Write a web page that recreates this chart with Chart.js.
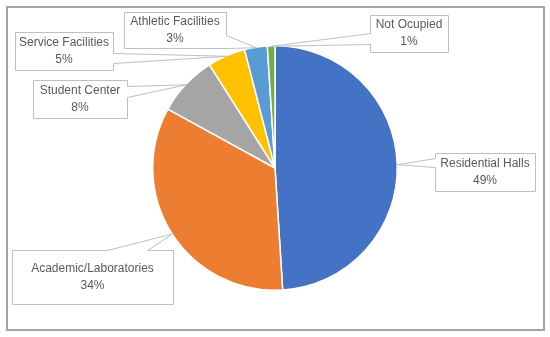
<!DOCTYPE html>
<html>
<head>
<meta charset="utf-8">
<script src="https://cdn.jsdelivr.net/npm/chart.js@4.4.1/dist/chart.umd.min.js"></script>
<style>
  html, body { margin: 0; padding: 0; background: #fff; }
  #wrap { width: 550px; height: 337px; }
</style>
</head>
<body>
<div id="wrap"><canvas id="pieUsos" width="550" height="337"></canvas></div>
<script>
const categories = ['Residential Halls', 'Academic/Laboratories', 'Student Center', 'Service Facilities', 'Athletic Facilities', 'Not Ocupied'];
const shares = [49, 34, 8, 5, 3, 1];
const sliceColors = ['#4472C4', '#ED7D31', '#A5A5A5', '#FFC000', '#5B9BD5', '#70AD47'];

// callout boxes (layout only), same order as categories
// side = edge where the pointer leaves the box, a/b = pointer base along that edge
const calloutBoxes = [
    { x: 435, y: 153, w: 100, h: 38, side: 'left',  a: 5,  b: 14 },
    { x: 12,  y: 250, w: 161, h: 54, side: 'top',   a: 95, b: 135 },
    { x: 33,  y: 80,  w: 94,  h: 38, side: 'right', a: 6,  b: 17 },
    { x: 15,  y: 32,  w: 98,  h: 38, side: 'right', a: 21, b: 31 },
    { x: 124, y: 12,  w: 102, h: 36, side: 'right', a: 23, b: 36 },
    { x: 370, y: 15,  w: 78,  h: 37, side: 'left',  a: 18, b: 29 }
];

function calloutPath(ctx, b, ax, ay) {
    const L = b.x, T = b.y, R = b.x + b.w, B = b.y + b.h;
    const pts = [[L, T]];
    if (b.side === 'top') pts.push([L + b.a, T], [ax, ay], [L + b.b, T]);
    pts.push([R, T]);
    if (b.side === 'right') pts.push([R, T + b.a], [ax, ay], [R, T + b.b]);
    pts.push([R, B]);
    if (b.side === 'bottom') pts.push([L + b.b, B], [ax, ay], [L + b.a, B]);
    pts.push([L, B]);
    if (b.side === 'left') pts.push([L, T + b.b], [ax, ay], [L, T + b.a]);
    ctx.beginPath();
    ctx.moveTo(pts[0][0] + 0.5, pts[0][1] + 0.5);
    for (let i = 1; i < pts.length; i++) ctx.lineTo(pts[i][0] + 0.5, pts[i][1] + 0.5);
    ctx.closePath();
}

const frameAndCallouts = {
    id: 'frameAndCallouts',
    beforeDraw(chart) {
        const ctx = chart.ctx;
        ctx.save();
        ctx.fillStyle = '#ffffff';
        ctx.fillRect(0, 0, chart.width, chart.height);
        ctx.strokeStyle = '#a3a3a3';
        ctx.lineWidth = 2;
        ctx.strokeRect(7, 7, 537, 323);
        ctx.restore();
    },
    afterDraw(chart) {
        const ctx = chart.ctx;
        const meta = chart.getDatasetMeta(0);
        ctx.save();
        meta.data.forEach((arc, i) => {
            const mid = (arc.startAngle + arc.endAngle) / 2;
            const ax = arc.x + Math.cos(mid) * arc.outerRadius;
            const ay = arc.y + Math.sin(mid) * arc.outerRadius;
            const b = calloutBoxes[i];
            calloutPath(ctx, b, ax, ay);
            ctx.fillStyle = '#ffffff';
            ctx.fill();
            ctx.strokeStyle = '#bfbfbf';
            ctx.lineWidth = 1;
            ctx.stroke();

            const cx = b.x + b.w / 2;
            const cy = b.y + b.h / 2;
            ctx.fillStyle = '#595959';
            ctx.font = '12px "Liberation Sans", Arial, sans-serif';
            ctx.textAlign = 'center';
            ctx.textBaseline = 'middle';
            ctx.fillText(categories[i], cx, cy - 8.5);
            ctx.fillText(shares[i] + '%', cx, cy + 8.5);
        });
        ctx.restore();
    }
};

const pieUsos = new Chart('pieUsos', {
    type: 'pie',
    data: {
        labels: categories,
        datasets: [{
            label: 'Building use',
            data: shares,
            backgroundColor: sliceColors,
            borderColor: '#ffffff',
            borderWidth: 1.5
        }]
    },
    options: {
        responsive: false,
        animation: false,
        layout: {
            padding: { top: 45, bottom: 46, left: 0, right: 0 }
        },
        plugins: {
            legend: { display: false },
            tooltip: { enabled: false },
            title: { display: false }
        }
    },
    plugins: [frameAndCallouts]
});
</script>
</body>
</html>
